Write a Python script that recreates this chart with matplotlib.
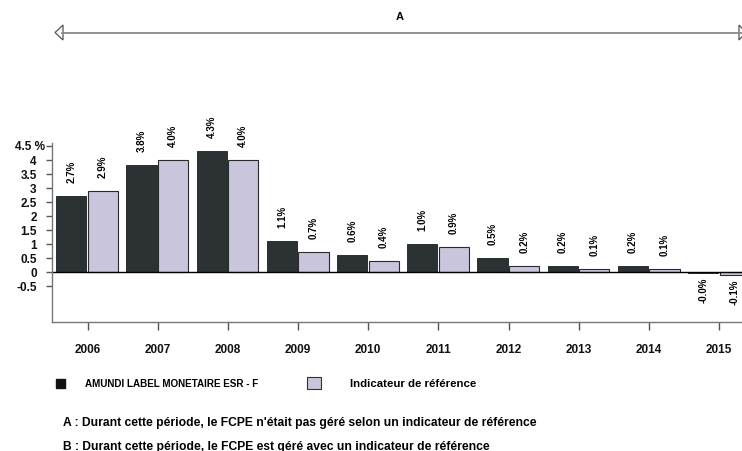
import numpy as np
import matplotlib.pyplot as plt
from matplotlib.patches import Rectangle, Polygon
from matplotlib.lines import Line2D

plt.rcParams['font.family'] = ['Liberation Sans', 'DejaVu Sans']

# data
years = ['2006', '2007', '2008', '2009', '2010', '2011', '2012', '2013', '2014', '2015']
fund = [2.7, 3.8, 4.3, 1.1, 0.6, 1.0, 0.5, 0.2, 0.2, -0.04]
benchmark = [2.9, 4.0, 4.0, 0.7, 0.4, 0.9, 0.2, 0.1, 0.1, -0.1]
yticks = [-0.5, 0, 0.5, 1, 1.5, 2, 2.5, 3, 3.5, 4, 4.5]
ytick_labels = ['-0.5', '0', '0.5', '1', '1.5', '2', '2.5', '3', '3.5', '4', '']
top_label = '4.5 %'
fund_name = 'AMUNDI LABEL MONETAIRE ESR - F'
bench_name = 'Indicateur de référence'
note_a = "A : Durant cette période, le FCPE n'était pas géré selon un indicateur de référence"
note_b = "B : Durant cette période, le FCPE est géré avec un indicateur de référence"

W, H = 742, 452
dark = '#2c3234'
light = '#c9c5dd'


def fx(px):
    return px / W


def fy(py):
    return 1 - py / H


fig = plt.figure(figsize=(W / 100, H / 100), dpi=100)
fig.patch.set_facecolor('white')

# main axes, placed in pixels
left, right, top, bottom = 52, 742, 144, 322.7
ax = fig.add_axes([fx(left), fy(bottom), fx(right - left), (bottom - top) / H])

x = np.arange(len(years))
w = 0.43
b1 = ax.bar(x - 0.23, fund, w, color=dark, edgecolor='#1a1e20', linewidth=0.6)
b2 = ax.bar(x + 0.22, benchmark, w, color=light, edgecolor='#2a2a2a', linewidth=0.8)

for bars, vals in [(b1, fund), (b2, benchmark)]:
    for r, v in zip(bars, vals):
        cx = r.get_x() + r.get_width() / 2
        if v >= 0:
            ax.annotate(f'{v:.1f}%', (cx, v), xytext=(0, 10), textcoords='offset points',
                        rotation=90, ha='center', va='bottom', fontsize=7,
                        fontweight='bold', annotation_clip=False)
        else:
            ax.annotate(f'{v:.1f}%', (cx, v), xytext=(0, -3), textcoords='offset points',
                        rotation=90, ha='center', va='top', fontsize=7,
                        fontweight='bold', annotation_clip=False)

ax.axhline(0, color='black', linewidth=1)

ax.set_xlim((left - 87.5) / 70.2, (right - 87.5) / 70.2)
ax.set_ylim(-(bottom - 272.7) / 28, (272.7 - top) / 28)

ax.set_xticks(x)
ax.set_xticklabels(years, fontsize=8.5, fontweight='bold')
ax.set_yticks(yticks)
ax.set_yticklabels(ytick_labels, fontsize=8.5, fontweight='bold')
ax.tick_params(axis='x', length=6, width=1, pad=9, colors='#555', labelcolor='#111')
ax.tick_params(axis='y', length=4, width=1, pad=7, colors='#555', labelcolor='#111')

for s in ['top', 'right']:
    ax.spines[s].set_visible(False)
for s in ['left', 'bottom']:
    ax.spines[s].set_color('#777')
    ax.spines[s].set_linewidth(1)

fig.text(fx(45), fy(147), top_label, fontsize=8.5, fontweight='bold', va='center', ha='right',
         color='#111')

# period arrow "A" at the top
fig.add_artist(Line2D([fx(62), fx(742)], [fy(33.5), fy(33.5)], color='#8a8a8a', linewidth=1.3))
fig.add_artist(Polygon([[fx(55), fy(33.5)], [fx(63), fy(26)], [fx(63), fy(41)]],
                       closed=True, facecolor='white', edgecolor='#555', linewidth=0.9))
fig.add_artist(Polygon([[fx(746), fy(33.5)], [fx(739), fy(26)], [fx(739), fy(41)]],
                       closed=True, facecolor='white', edgecolor='#555', linewidth=0.9))
fig.text(fx(400), fy(17), 'A', fontsize=8, fontweight='bold', ha='center', va='center')

# legend
fig.add_artist(Rectangle((fx(56), fy(389)), fx(9), 9 / H, facecolor='#111', edgecolor='#111'))
fig.text(fx(85), fy(384), fund_name, fontsize=7.1, fontweight='bold', ha='left', va='center')
fig.add_artist(Rectangle((fx(307), fy(390)), fx(14), 12 / H, facecolor=light, edgecolor='#333',
                         linewidth=0.8))
fig.text(fx(350), fy(384), bench_name, fontsize=8.2, fontweight='bold', ha='left', va='center')

# footnotes
fig.text(fx(63), fy(423), note_a, fontsize=8.7, fontweight='bold', ha='left', va='center')
fig.text(fx(63), fy(447), note_b, fontsize=8.7, fontweight='bold', ha='left', va='center')

fig.savefig('out.png', dpi=100)
